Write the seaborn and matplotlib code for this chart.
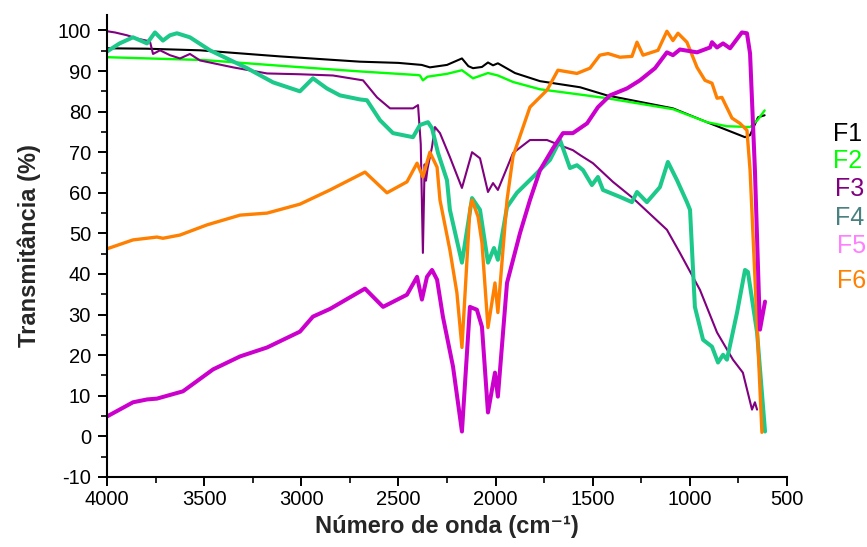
import matplotlib
matplotlib.use("Agg")
import matplotlib.pyplot as plt
from matplotlib.ticker import MultipleLocator
import seaborn as sns
import pandas as pd

# FTIR transmittance spectra (wavenumber in cm-1, transmittance in %)
f1_x = [4000, 3800, 3521, 3110, 2698, 2500, 2380, 2338, 2250, 2173, 2140, 2116, 2070, 2039, 2013, 1988,
        1900, 1771, 1565, 1427, 1087, 912, 716, 690, 649, 615]
f1_y = [95.6, 95.5, 95.1, 93.6, 92.3, 92.0, 91.5, 90.9, 91.5, 93.1, 91.2, 90.7, 91.0, 92.1, 91.4, 91.9,
        89.5, 87.5, 86.0, 84.0, 80.8, 77.4, 73.7, 74.2, 78.6, 79.1]

f2_x = [4000, 3500, 3110, 2698, 2400, 2389, 2374, 2350, 2250, 2173, 2116, 2039, 1988, 1910, 1771, 1565,
        1427, 1087, 912, 810, 690, 650, 615]
f2_y = [93.4, 92.7, 91.3, 89.9, 89.0, 88.9, 87.7, 88.6, 89.3, 90.2, 88.2, 89.5, 88.9, 87.3, 85.5, 84.2,
        83.3, 80.6, 77.4, 76.4, 76.2, 78.0, 80.3]

f3_x = [4000, 3959, 3897, 3846, 3779, 3763, 3727, 3676, 3624, 3573, 3521, 3351, 3176, 3007, 2837, 2682,
        2610, 2543, 2425, 2399, 2385, 2374, 2365, 2358, 2350, 2327, 2312, 2286, 2235, 2173, 2121, 2080,
        2039, 2013, 1988, 1910, 1823, 1735, 1668, 1602, 1565, 1499, 1396, 1293, 1118, 1051, 948, 860,
        778, 727, 680, 665, 654]
f3_y = [99.8, 99.5, 98.8, 98.0, 97.3, 94.2, 95.1, 93.9, 93.1, 94.2, 92.6, 90.9, 89.4, 89.2, 88.9, 87.7,
        83.5, 80.8, 80.8, 81.6, 72.0, 45.2, 67.0, 63.0, 66.0, 71.3, 76.2, 74.7, 68.8, 61.2, 70.0, 68.5,
        60.2, 62.4, 60.7, 69.8, 73.0, 73.0, 71.7, 70.5, 69.3, 67.3, 62.7, 58.7, 50.9, 45.2, 36.1, 25.6,
        18.9, 15.7, 6.6, 8.4, 6.6]

f4_x = [4000, 3935, 3866, 3794, 3753, 3712, 3676, 3640, 3573, 3470, 3279, 3145, 3007, 2940, 2868, 2801,
        2698, 2662, 2595, 2528, 2425, 2389, 2348, 2327, 2296, 2250, 2235, 2173, 2121, 2080, 2039, 2008,
        1988, 1941, 1890, 1807, 1720, 1668, 1617, 1581, 1550, 1504, 1473, 1447, 1360, 1298, 1272, 1221,
        1154, 1113, 1066, 1015, 999, 974, 932, 886, 855, 829, 809, 757, 716, 701, 654, 613]
f4_y = [94.8, 96.8, 98.3, 96.8, 99.5, 97.5, 98.8, 99.3, 98.3, 95.1, 90.7, 87.2, 85.0, 88.2, 85.7, 84.0,
        83.0, 82.8, 77.9, 74.7, 73.7, 76.7, 77.4, 75.9, 69.8, 63.1, 55.8, 42.8, 58.7, 55.8, 42.8, 46.4,
        43.5, 56.5, 60.0, 63.9, 68.1, 73.0, 66.1, 66.8, 65.6, 61.9, 63.9, 60.7, 59.0, 57.7, 60.2, 57.7,
        61.4, 67.6, 63.1, 57.7, 55.8, 31.9, 23.8, 22.1, 18.2, 20.1, 18.9, 30.5, 41.0, 40.5, 25.6, 1.2]

f5_x = [4000, 3866, 3794, 3743, 3609, 3454, 3315, 3176, 3007, 2940, 2852, 2672, 2579, 2456, 2404, 2379,
        2353, 2327, 2301, 2271, 2219, 2173, 2132, 2096, 2070, 2039, 2003, 1988, 1941, 1874, 1823, 1771,
        1704, 1653, 1602, 1529, 1473, 1411, 1324, 1257, 1179, 1118, 1087, 1051, 963, 896, 886, 860,
        829, 793, 732, 706, 690, 665, 639, 613]
f5_y = [4.9, 8.4, 9.1, 9.3, 11.1, 16.5, 19.7, 21.9, 25.8, 29.5, 31.4, 36.4, 31.9, 34.9, 39.3, 33.7,
        39.3, 41.0, 38.6, 29.5, 17.2, 1.2, 31.9, 31.2, 27.0, 5.9, 15.7, 9.8, 37.8, 50.1, 58.2, 65.6,
        71.0, 74.7, 74.7, 77.1, 81.1, 84.0, 85.7, 87.7, 90.7, 94.6, 93.9, 95.3, 94.6, 95.8, 97.1, 95.8,
        96.8, 95.6, 99.5, 99.3, 94.3, 65.6, 26.3, 33.2]

f6_x = [4000, 3866, 3743, 3712, 3624, 3485, 3315, 3176, 3007, 2852, 2672, 2559, 2456, 2404, 2374, 2338,
        2301, 2286, 2235, 2199, 2173, 2132, 2121, 2090, 2070, 2039, 2003, 1988, 1941, 1910, 1823, 1735,
        1679, 1617, 1581, 1514, 1463, 1421, 1360, 1298, 1272, 1241, 1164, 1118, 1087, 1061, 1015, 963,
        922, 886, 860, 835, 783, 742, 706, 690, 629]
f6_y = [46.2, 48.4, 49.1, 48.8, 49.6, 52.1, 54.5, 55.0, 57.2, 60.7, 65.1, 60.0, 62.7, 67.3, 63.9, 70.0,
        66.3, 58.2, 45.9, 35.4, 21.9, 56.0, 58.2, 54.1, 47.7, 26.8, 37.8, 30.5, 58.2, 69.0, 81.1, 85.3,
        90.2, 89.7, 89.4, 90.7, 93.9, 94.3, 93.4, 93.6, 97.1, 93.9, 95.1, 99.8, 97.5, 99.3, 97.1, 90.9,
        87.7, 87.0, 83.3, 83.5, 78.4, 77.1, 75.4, 65.6, 1.0]

labels = ["F1", "F2", "F3", "F4", "F5", "F6"]
line_colors = ["#000000", "#00FF00", "#800080", "#1CC98A", "#CC00CC", "#FF8000"]
label_colors = ["#000000", "#00FF00", "#800080", "#4A8080", "#FF80FF", "#FF8000"]
line_widths = [1.5, 1.7, 1.5, 2.9, 2.9, 2.4]

series = [(f1_x, f1_y), (f2_x, f2_y), (f3_x, f3_y), (f4_x, f4_y), (f5_x, f5_y), (f6_x, f6_y)]
frames = [pd.DataFrame({"wavenumber": x, "T": y, "sample": name}) for (x, y), name in zip(series, labels)]
df = pd.concat(frames, ignore_index=True)

sns.set_style("ticks")
plt.rcParams["font.family"] = ["Liberation Sans", "DejaVu Sans"]
plt.rcParams["axes.unicode_minus"] = False

fig = plt.figure(figsize=(8.67, 5.47), dpi=100)
ax = fig.add_axes([0.1234, 0.128, 0.7843, 0.8446])

draw_order = [0, 1, 2, 3, 5, 4]
for i in draw_order:
    sub = df[df["sample"] == labels[i]]
    sns.lineplot(data=sub, x="wavenumber", y="T", ax=ax, color=line_colors[i],
                 linewidth=line_widths[i], estimator=None, sort=False, legend=False)

ax.set_xlim(4000, 500)
ax.set_ylim(-10, 103.8)
ax.xaxis.set_major_locator(MultipleLocator(500))
ax.xaxis.set_minor_locator(MultipleLocator(250))
ax.yaxis.set_major_locator(MultipleLocator(10))
ax.yaxis.set_minor_locator(MultipleLocator(5))
ax.tick_params(axis="both", which="major", direction="out", length=6.5, width=1.4,
               labelsize=14.5, colors="black")
ax.tick_params(axis="both", which="minor", direction="out", length=4, width=1.4)
ax.tick_params(axis="y", which="major", pad=5)
ax.tick_params(axis="x", which="major", pad=3)

for side in ["top", "right"]:
    ax.spines[side].set_visible(False)
for side in ["left", "bottom"]:
    ax.spines[side].set_linewidth(1.5)
    ax.spines[side].set_color("black")

ax.set_xlabel("Número de onda (cm\u207b\u00b9)", fontsize=17, fontweight="bold", labelpad=4)
ax.set_ylabel("Transmitância (%)", fontsize=17, fontweight="bold", labelpad=12)

# Sample names as coloured text to the right of the plot
legend_y = [134, 161, 189, 218, 246, 281]
legend_x = [833, 833, 835, 835, 837, 837]
for name, col, px, py in zip(labels, label_colors, legend_x, legend_y):
    fig.text(px / 867, 1 - py / 547, name, color=col, fontsize=18, ha="left", va="center")

fig.savefig("out.png", dpi=100)
